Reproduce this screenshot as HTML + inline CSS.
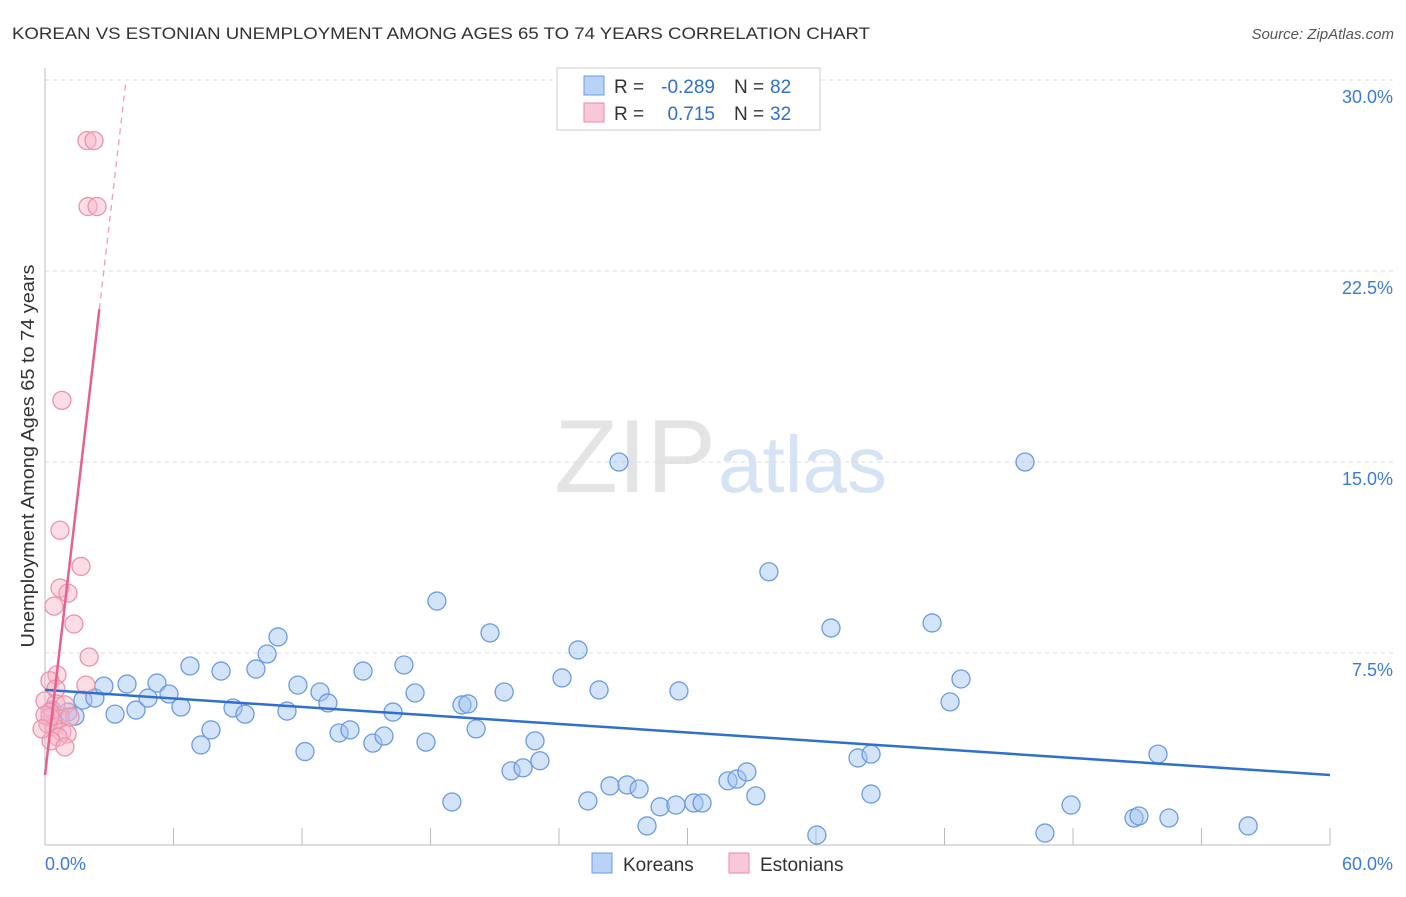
<!DOCTYPE html>
<html><head><meta charset="utf-8"><style>
body{margin:0;background:#fff;font-family:"Liberation Sans",sans-serif;}
svg text{font-family:"Liberation Sans",sans-serif;}
</style></head><body>
<svg id="chart" width="1406" height="892" xmlns="http://www.w3.org/2000/svg">
<text x="12" y="39" font-size="17" fill="#333" textLength="858" lengthAdjust="spacingAndGlyphs">KOREAN VS ESTONIAN UNEMPLOYMENT AMONG AGES 65 TO 74 YEARS CORRELATION CHART</text>
<text x="1394" y="39" font-size="15" fill="#555" text-anchor="end" font-style="italic">Source: ZipAtlas.com</text>
<text x="716" y="492" font-size="104" fill="#e4e4e4" text-anchor="end" font-family="Liberation Serif">ZIP</text>
<text x="718" y="492" font-size="80" fill="#d6e3f5">atlas</text>
<text transform="translate(34,456) rotate(-90)" font-size="18" fill="#333" text-anchor="middle" textLength="383" lengthAdjust="spacingAndGlyphs">Unemployment Among Ages 65 to 74 years</text>
<g id="grid"></g><g id="marks"></g>
<g>
<rect x="557" y="68" width="263" height="62" fill="#fff" stroke="#ccc"/>
<rect x="584" y="76" width="20" height="19" fill="#b8d3f5" stroke="#6b9be0"/>
<rect x="584" y="103" width="20" height="19" fill="#f9c8d6" stroke="#e88aa8"/>
<text x="614" y="93" font-size="19" fill="#333">R =</text>
<text x="715" y="93" font-size="19" fill="#2f6fd0" text-anchor="end">-0.289</text>
<text x="734" y="93" font-size="19" fill="#333">N =</text>
<text x="770" y="93" font-size="19" fill="#2f6fd0">82</text>
<text x="614" y="120" font-size="19" fill="#333">R =</text>
<text x="715" y="120" font-size="19" fill="#2f6fd0" text-anchor="end">0.715</text>
<text x="734" y="120" font-size="19" fill="#333">N =</text>
<text x="770" y="120" font-size="19" fill="#2f6fd0">32</text>
</g>
<g>
<rect x="592" y="853" width="20" height="20" fill="#b8d3f5" stroke="#6b9be0"/>
<text x="623" y="871" font-size="19" fill="#333">Koreans</text>
<rect x="729" y="853" width="20" height="20" fill="#f9c8d6" stroke="#e88aa8"/>
<text x="760" y="871" font-size="19" fill="#333">Estonians</text>
</g>
</svg>
<script>
const yTicks=[7.5,15,22.5,30];
const yTickLabels=["7.5%","15.0%","22.5%","30.0%"];
const xTicks=[0,6,12,18,24,30,36,42,48,54,60];
const koreanX=[0.33,0.7,1.07,1.4,1.77,2.33,2.75,3.27,3.83,4.25,4.81,5.23,5.79,6.35,6.77,7.28,7.75,8.22,8.78,9.34,9.85,10.37,10.88,11.3,11.81,12.14,12.84,13.21,13.73,14.24,14.85,15.31,15.83,16.25,16.76,17.28,17.79,18.3,19.0,19.47,19.75,20.13,20.78,21.44,21.76,22.32,22.88,23.11,24.14,24.89,25.35,25.87,26.38,26.8,27.18,27.74,28.11,28.72,29.46,29.6,30.3,30.68,31.89,32.31,32.77,33.19,33.8,36.04,36.7,37.96,38.57,38.57,41.42,42.26,42.77,45.76,46.69,47.91,50.85,51.08,52.48,51.97,56.18];
const koreanY=[5.26,5.06,5.18,5.02,5.65,5.73,6.2,5.1,6.28,5.26,5.73,6.32,5.89,5.38,6.99,3.89,4.48,6.79,5.34,5.1,6.87,7.46,8.13,5.22,6.24,3.63,5.97,5.54,4.36,4.48,6.79,3.96,4.24,5.18,7.03,5.93,4.0,9.54,1.65,5.46,5.5,4.52,8.29,5.97,2.87,2.99,4.05,3.27,6.52,7.62,1.69,6.05,2.28,15.0,2.32,2.16,0.71,1.46,1.53,6.01,1.61,1.61,2.48,2.55,2.83,1.89,10.69,0.35,8.48,3.38,3.53,1.96,8.68,5.58,6.48,15.0,0.43,1.53,1.02,1.1,1.02,3.53,0.71];
const estX=[1.96,2.29,2.01,2.43,0.79,0.7,1.68,0.7,1.07,0.42,1.35,2.06,0.56,0.23,0.51,1.91,0,0.51,0.93,0.23,0.7,1.17,0.14,0.42,0.79,1.03,0.61,0.28,0.93,0.23,0,-0.14];
const estY=[27.62,27.62,25.03,25.03,17.42,12.32,10.9,10.05,9.85,9.34,8.64,7.34,6.64,6.41,6.09,6.24,5.62,5.5,5.46,5.18,4.91,4.99,4.71,4.59,4.4,4.32,4.2,4.05,3.81,4.99,5.06,4.52];
const blueLine=[6.05,2.71]; // y at x=0 and x=60
const pinkLine=[2.71,7.21]; // intercept, slope
const X=v=>45+v/60*1285, Y=v=>844-v/7.5*191;
const NS="http://www.w3.org/2000/svg";
function el(t,a,p){const e=document.createElementNS(NS,t);for(const k in a)e.setAttribute(k,a[k]);p.appendChild(e);return e;}
const g=document.getElementById('grid'),m=document.getElementById('marks');
yTicks.forEach((v,i)=>{
 const l=el('line',{x1:45,x2:1394,y1:Y(v),y2:Y(v),stroke:'#ddd','stroke-dasharray':'4,4'},g);
 
 
 const t=el('text',{x:1393,y:Y(v)+23,'font-size':18,fill:'#3b7bd8','text-anchor':'end'},g);
 t.textContent=yTickLabels[i];
 
 
});
el('line',{x1:45,x2:45,y1:68,y2:845,stroke:'#bbb'},g);
el('line',{x1:45,x2:1330,y1:845,y2:845,stroke:'#bbb'},g);
xTicks.forEach(v=>{const l=el('line',{x1:X(v),x2:X(v),y1:828,y2:845,stroke:'#bbb'},g);
 
 });
const x0=el('text',{x:45,y:870,'font-size':18,fill:'#3b7bd8'},g);x0.textContent='0.0%';


const x1=el('text',{x:1393,y:870,'font-size':18,fill:'#3b7bd8','text-anchor':'end'},g);x1.textContent='60.0%';


koreanX.forEach((v,i)=>{const c=el('circle',{cx:X(v),cy:Y(koreanY[i]),r:9,fill:'rgba(160,195,240,0.45)',stroke:'#6b9be0','stroke-width':1.3},m);
 
 });
estX.forEach((v,i)=>{const c=el('circle',{cx:X(v),cy:Y(estY[i]),r:9,fill:'rgba(248,180,200,0.45)',stroke:'#ea93ad','stroke-width':1.3},m);
 
 });
const bl=el('line',{x1:X(0),y1:Y(blueLine[0]),x2:X(60),y2:Y(blueLine[1]),stroke:'#2f6fd0','stroke-width':2.5},m);


const xs=(21-pinkLine[0])/pinkLine[1], xe=(30-pinkLine[0])/pinkLine[1];
const pl=el('line',{x1:X(0),y1:Y(pinkLine[0]),x2:X(xs),y2:Y(21),stroke:'#e8608e','stroke-width':2.5},m);


const pd=el('line',{x1:X(xs),y1:Y(21),x2:X(xe),y2:Y(30),stroke:'#e8a0b8','stroke-width':1.3,'stroke-dasharray':'6,5'},m);


</script>
</body></html>
